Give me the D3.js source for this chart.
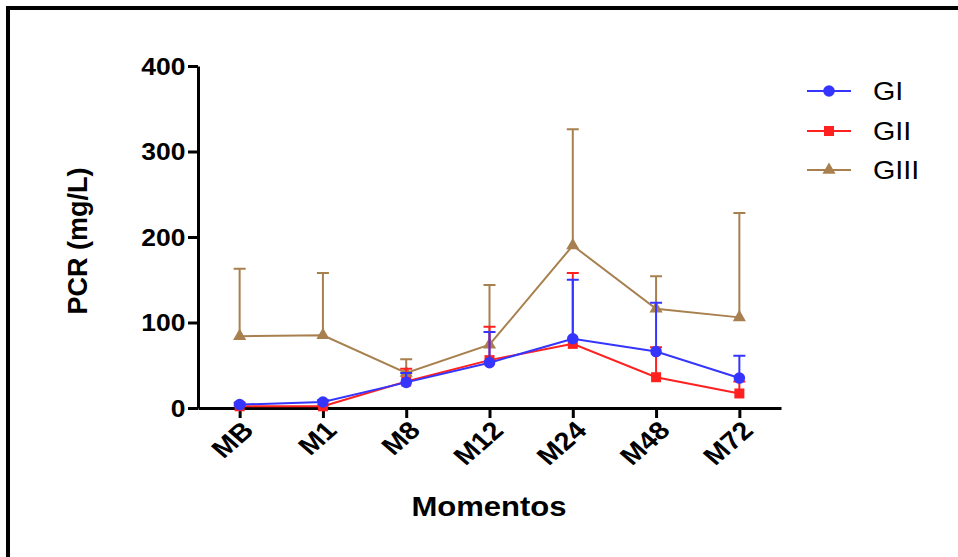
<!DOCTYPE html>
<html>
<head>
<meta charset="utf-8">
<script src="https://cdn.jsdelivr.net/npm/d3@7"></script>
<style>
  body { margin: 0; background: #fff; }
  svg { display: block; }
  text { font-family: "Liberation Sans", Arial, sans-serif; }
</style>
</head>
<body>
<svg id="chart" width="958" height="557"></svg>
<script>
// Time points (x axis)
let categories = ["MB", "M1", "M8", "M12", "M24", "M48", "M72"];

// Group means
let gI = [4, 7, 30, 53, 81, 66, 35];
let gII = [2, 2, 31, 56, 75, 36, 17];
let gIII = [84, 85, 41, 74, 190, 116, 106];

// Upper error (SD)
let gIsd = [2, 2, 11, 36, 69, 57, 26];
let gIIsd = [1, 1, 15, 39, 83, 35, 14];
let gIIIsd = [79, 73, 16, 70, 136, 38, 122];

let yTicks = [0, 100, 200, 300, 400];
let seriesNames = ["GI", "GII", "GIII"];

let series = [
  { name: "GIII", values: gIII, sd: gIIIsd, color: "#a8804f", symbol: d3.symbolTriangle, size: 75 },
  { name: "GII", values: gII, sd: gIIsd, color: "#ff2020", symbol: d3.symbolSquare, size: 100 },
  { name: "GI", values: gI, sd: gIsd, color: "#3535ff", symbol: d3.symbolCircle, size: 105 },
];

let svg = d3.select("#chart");
let sx = 1.15; // the picture is a bit stretched sideways

// frame (top and left only)
svg.append("path")
  .attr("d", "M8,557 L8,8 L958,8")
  .attr("fill", "none")
  .attr("stroke", "#000")
  .attr("stroke-width", 4);

let x = d3.scalePoint().domain(categories).range([198, 781]).padding(0.5);
let y = d3.scaleLinear().domain([0, 400]).range([408, 66]);

// y axis
let yAxis = svg.append("g")
  .attr("transform", "translate(198,0)")
  .call(d3.axisLeft(y).tickValues(yTicks).tickSize(10).tickSizeOuter(0));
yAxis.select(".domain").attr("stroke-width", 3);
yAxis.selectAll(".tick line").attr("stroke-width", 3);
yAxis.selectAll(".tick text")
  .attr("font-size", 23)
  .attr("font-weight", "bold")
  .attr("fill", "#000")
  .attr("x", -11)
  .attr("dy", "0.36em")
  .attr("transform", "scale(" + sx + ",1)");

// x axis
let xAxis = svg.append("g")
  .attr("transform", "translate(0,408)")
  .call(d3.axisBottom(x).tickSize(10).tickSizeOuter(0));
xAxis.select(".domain").attr("stroke-width", 3);
xAxis.selectAll(".tick line").attr("stroke-width", 3);
xAxis.selectAll(".tick text")
  .attr("font-size", 25)
  .attr("font-weight", "bold")
  .attr("fill", "#000")
  .attr("text-anchor", "end")
  .attr("x", 0)
  .attr("y", 0)
  .attr("dy", 0)
  .attr("transform", "translate(15,24) scale(" + sx + ",1) rotate(-45)");

// axis titles
svg.append("text")
  .attr("transform", "translate(489,516) scale(" + sx + ",1)")
  .attr("text-anchor", "middle")
  .attr("font-size", 27)
  .attr("font-weight", "bold")
  .text("Momentos");

svg.append("text")
  .attr("transform", "translate(87,241) rotate(-90)")
  .attr("text-anchor", "middle")
  .attr("font-size", 27)
  .attr("font-weight", "bold")
  .text("PCR (mg/L)");

let line = d3.line()
  .x(function (d, i) { return x(categories[i]); })
  .y(function (d) { return y(d); });

// draw each series: error bars, line, markers
series.forEach(function (s) {
  let g = svg.append("g");

  g.selectAll(".err")
    .data(s.values)
    .enter()
    .append("path")
    .attr("d", function (d, i) {
      let cx = x(categories[i]);
      let top = y(d + s.sd[i]);
      return "M" + cx + "," + y(d) + "V" + top + "M" + (cx - 6) + "," + top + "H" + (cx + 6);
    })
    .attr("stroke", s.color)
    .attr("stroke-width", 2)
    .attr("fill", "none");

  g.append("path")
    .datum(s.values)
    .attr("d", line)
    .attr("stroke", s.color)
    .attr("stroke-width", 2)
    .attr("fill", "none");

  g.selectAll(".pt")
    .data(s.values)
    .enter()
    .append("path")
    .attr("d", d3.symbol().type(s.symbol).size(s.size))
    .attr("transform", function (d, i) {
      return "translate(" + x(categories[i]) + "," + y(d) + ")";
    })
    .attr("fill", s.color);
});

// legend
let legendY = [91, 131, 170];
seriesNames.forEach(function (name, i) {
  let s = series.find(function (d) { return d.name === name; });
  let g = svg.append("g").attr("transform", "translate(0," + legendY[i] + ")");
  g.append("line")
    .attr("x1", 807).attr("x2", 851)
    .attr("stroke", s.color)
    .attr("stroke-width", 2);
  g.append("path")
    .attr("d", d3.symbol().type(s.symbol).size(s.size))
    .attr("transform", "translate(829,0)")
    .attr("fill", s.color);
  g.append("text")
    .attr("transform", "translate(873,9) scale(" + sx + ",1)")
    .attr("font-size", 25)
    .text(name);
});
</script>
</body>
</html>
